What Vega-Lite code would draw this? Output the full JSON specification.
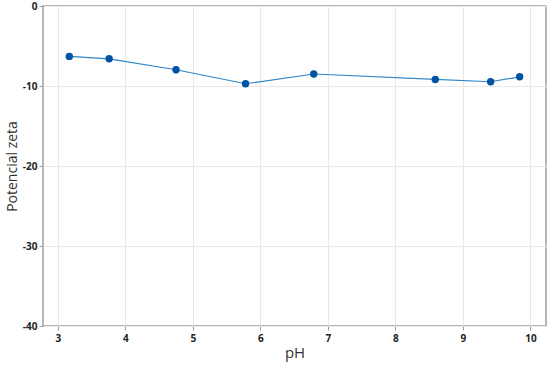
{
  "$schema": "https://vega.github.io/schema/vega-lite/v6.json",
  "width": 503,
  "height": 320,
  "autosize": "none",
  "padding": {"left": 43, "top": 6, "right": 4, "bottom": 41},
  "background": "white",
  "config": {
    "view": {"stroke": "#a0a0a0", "strokeWidth": 1.5},
    "font": "Open Sans"
  },
  "data": {
    "values": [
      {"pH": 3.17, "zeta": -6.3},
      {"pH": 3.76, "zeta": -6.6},
      {"pH": 4.75, "zeta": -7.97},
      {"pH": 5.78, "zeta": -9.72},
      {"pH": 6.79, "zeta": -8.5},
      {"pH": 8.59, "zeta": -9.18},
      {"pH": 9.41, "zeta": -9.47},
      {"pH": 9.84, "zeta": -8.85}
    ]
  },
  "encoding": {
    "x": {
      "field": "pH", "type": "quantitative",
      "scale": {"domain": [2.78, 10.23], "nice": false, "zero": false},
      "axis": {
        "title": "pH", "values": [3,4,5,6,7,8,9,10],
        "titleFont": "Open Sans", "titleFontSize": 15, "titleFontWeight": "normal", "titleColor": "#333", "titlePadding": 2,
        "labelFont": "Open Sans", "labelFontSize": 10, "labelFontWeight": "bold", "labelColor": "#222",
        "domain": false, "tickColor": "#999", "tickSize": 4, "labelPadding": 3,
        "gridColor": "#e8e8e8", "gridWidth": 1
      }
    },
    "y": {
      "field": "zeta", "type": "quantitative",
      "scale": {"domain": [-40, 0], "nice": false},
      "axis": {
        "title": "Potencial zeta", "values": [-40,-30,-20,-10,0],
        "labelExpr": "replace(datum.label, '\u2212', '-')",
        "titleFont": "Open Sans", "titleFontSize": 14, "titleFontWeight": "normal", "titleColor": "#333", "titlePadding": 3,
        "labelFont": "Open Sans", "labelFontSize": 10, "labelFontWeight": "bold", "labelColor": "#222",
        "domain": false, "tickColor": "#999", "tickSize": 4, "labelPadding": 2,
        "gridColor": "#e8e8e8", "gridWidth": 1
      }
    }
  },
  "layer": [
    {"mark": {"type": "line", "color": "#2f86c8", "strokeWidth": 1.2}},
    {"mark": {"type": "point", "filled": true, "color": "#0052a3", "size": 55, "opacity": 1}}
  ]
}
